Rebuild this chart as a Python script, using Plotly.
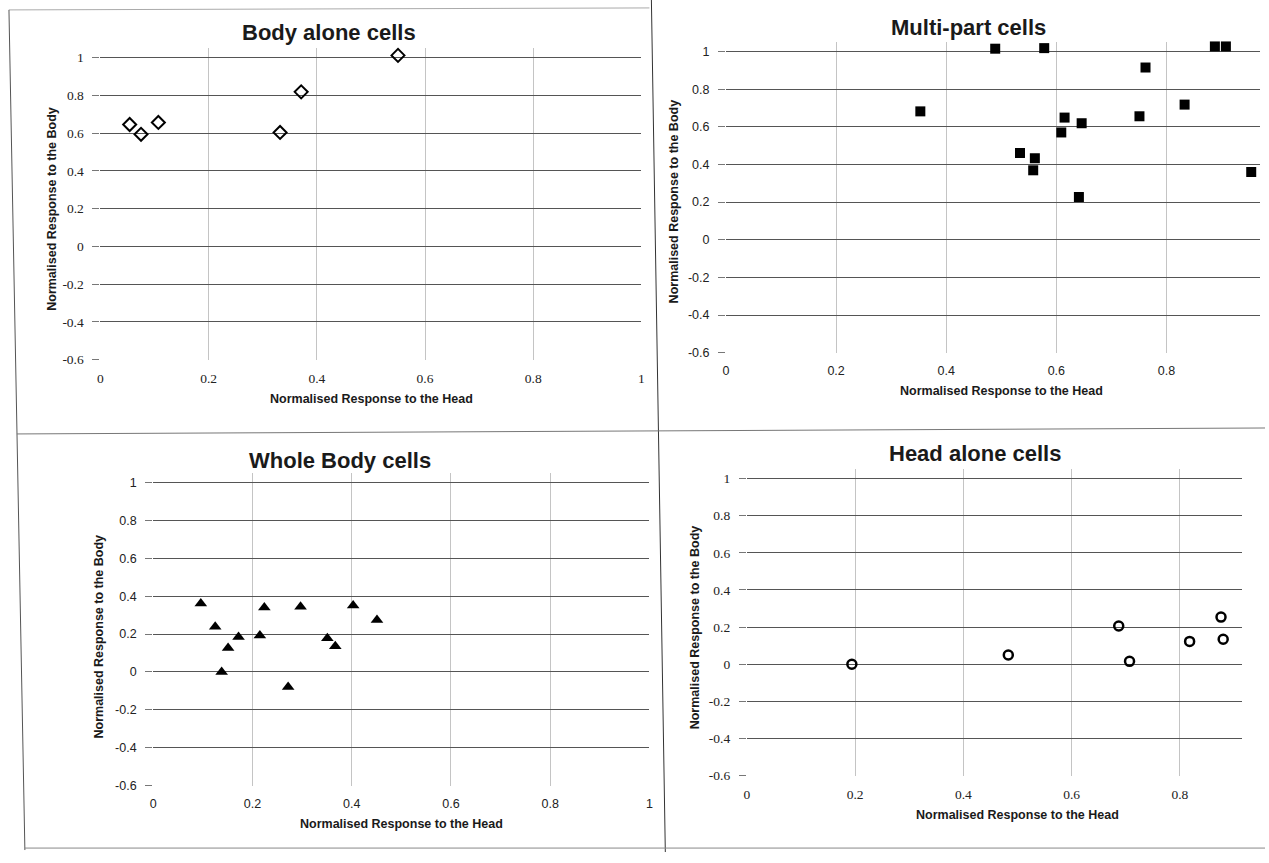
import plotly.graph_objects as go

# ---------------- data ----------------
x_tick_vals = [0, 0.2, 0.4, 0.6, 0.8, 1]
x_tick_text = ["0", "0.2", "0.4", "0.6", "0.8", "1"]
y_tick_vals = [-0.6, -0.4, -0.2, 0, 0.2, 0.4, 0.6, 0.8, 1]
y_tick_text = ["-0.6", "-0.4", "-0.2", "0", "0.2", "0.4", "0.6", "0.8", "1"]

body_alone_head = [0.054, 0.075, 0.107, 0.332, 0.371, 0.550]
body_alone_body = [0.645, 0.593, 0.656, 0.603, 0.818, 1.011]

multi_head = [0.353, 0.489, 0.578, 0.534, 0.561, 0.558, 0.609, 0.615,
              0.646, 0.641, 0.751, 0.762, 0.833, 0.888, 0.908, 0.954]
multi_body = [0.682, 1.015, 1.018, 0.461, 0.433, 0.369, 0.570, 0.649,
              0.619, 0.227, 0.656, 0.915, 0.718, 1.027, 1.027, 0.360]

whole_head = [0.096, 0.125, 0.151, 0.138, 0.172, 0.215, 0.224, 0.272,
              0.297, 0.351, 0.367, 0.403, 0.451]
whole_body = [0.361, 0.239, 0.127, 0.000, 0.185, 0.192, 0.340, -0.080,
              0.344, 0.178, 0.136, 0.351, 0.274]

head_alone_head = [0.194, 0.483, 0.687, 0.707, 0.818, 0.876, 0.880]
head_alone_body = [0.000, 0.050, 0.206, 0.016, 0.123, 0.254, 0.135]

titles = ["Body alone cells", "Multi-part cells", "Whole Body cells", "Head alone cells"]
x_title = "Normalised Response to the Head"
y_title = "Normalised Response to the Body"

# ---------------- layout helpers ----------------
W, H = 1269, 863
def px(x):
    return x / W
def py(y):
    return 1 - y / H

SERIF = "Liberation Serif, Times New Roman, serif"
SANS = "Liberation Sans, Arial, sans-serif"

YMIN, YMAX = -0.6, 1.05

# panel geometry in pixels: x of value 0 / right edge, y of value 1 / value -0.6
panels = [
    dict(x0=98, x1=642, y1=58, ym=363, xmax=1.0, font=SERIF, fs=13.5,
         title=(328, 33), xt=(371, 403), yt_pos=(49, 211)),
    dict(x0=727, x1=1264, y1=52, ym=356, xmax=0.97, font=SANS, fs=12.5,
         title=(971, 28), xt=(1004, 395), yt_pos=(675, 203)),
    dict(x0=151, x1=650, y1=487, ym=793, xmax=1.0, font=SANS, fs=12.5,
         title=(339, 465), xt=(401, 832), yt_pos=(97, 642)),
    dict(x0=748, x1=1246, y1=483, ym=783, xmax=0.915, font=SERIF, fs=13.5,
         title=(977, 458), xt=(1020, 823), yt_pos=(696, 633)),
]

series = [
    (body_alone_head, body_alone_body, dict(symbol="diamond-open", size=10, color="#000",
                                            line=dict(width=2, color="#000"))),
    (multi_head, multi_body, dict(symbol="square", size=10, color="#000",
                                  line=dict(width=0))),
    (whole_head, whole_body, dict(symbol="triangle-up", size=11, color="#000",
                                  line=dict(width=0))),
    (head_alone_head, head_alone_body, dict(symbol="circle-open", size=9, color="#000",
                                            line=dict(width=2.5, color="#000"))),
]

fig = go.Figure()
layout = dict(
    width=W, height=H,
    margin=dict(l=0, r=0, t=0, b=0),
    paper_bgcolor="white", plot_bgcolor="white",
    showlegend=False,
    annotations=[], shapes=[],
)

for i, (p, (xs, ys, mk)) in enumerate(zip(panels, series)):
    n = "" if i == 0 else str(i + 1)
    unit = (p["ym"] - p["y1"]) / 1.6
    top_px = p["y1"] - (YMAX - 1) * unit
    fig.add_trace(go.Scatter(x=xs, y=ys, mode="markers", marker=mk,
                             xaxis="x" + n, yaxis="y" + n, cliponaxis=False))
    layout["xaxis" + n] = dict(
        domain=[px(p["x0"]), px(p["x1"])], range=[0, p["xmax"]],
        anchor="y" + n, tickvals=x_tick_vals, ticktext=x_tick_text,
        showgrid=True, gridcolor="#c4c4c4", gridwidth=0.8,
        zeroline=False, showline=False, ticks="",
        ticklabelstandoff=9,
        tickfont=dict(family=p["font"], size=p["fs"], color="#222"),
    )
    layout["yaxis" + n] = dict(
        domain=[py(p["ym"]), py(top_px)], range=[YMIN, YMAX],
        anchor="x" + n, tickvals=y_tick_vals, ticktext=y_tick_text,
        showgrid=True, gridcolor="#555", gridwidth=1,
        zeroline=False, showline=False,
        ticks="outside", ticklen=7, tickcolor="#777",
        ticklabelstandoff=6,
        tickfont=dict(family=p["font"], size=p["fs"], color="#222"),
    )
    tx, ty = p["title"]
    layout["annotations"].append(dict(
        text="<b>" + titles[i] + "</b>", x=px(tx), y=py(ty), xref="paper", yref="paper",
        xanchor="center", yanchor="middle", showarrow=False,
        font=dict(family=SANS, size=22, color="#1a1a1a")))
    ax, ay = p["xt"]
    layout["annotations"].append(dict(
        text="<b>" + x_title + "</b>", x=px(ax), y=py(ay), xref="paper", yref="paper",
        xanchor="center", yanchor="middle", showarrow=False,
        font=dict(family=SANS, size=12.5, color="#1a1a1a")))
    bx, by = p["yt_pos"]
    layout["annotations"].append(dict(
        text="<b>" + y_title + "</b>", x=px(bx), y=py(by), xref="paper", yref="paper",
        xanchor="center", yanchor="middle", showarrow=False, textangle=-90,
        font=dict(family=SANS, size=12.5, color="#1a1a1a")))

# panel frame lines of the scanned page
frame = [
    ((6, 10), (650, 8), "#aaa"),
    ((6, 10), (22, 858), "#555"),
    ((652, 0), (666, 860), "#333"),
    ((14, 438), (1269, 432), "#777"),
    ((22, 856), (1269, 856), "#888"),
]
for (xa, ya), (xb, yb), c in frame:
    layout["shapes"].append(dict(type="line", xref="paper", yref="paper",
                                 x0=px(xa), y0=py(ya), x1=px(xb), y1=py(yb),
                                 line=dict(color=c, width=1)))

fig.update_layout(**layout)
fig.write_html("out.html",
               config={"displayModeBar": False},
               post_script="document.body.style.margin='0px';document.body.style.overflow='hidden';")
